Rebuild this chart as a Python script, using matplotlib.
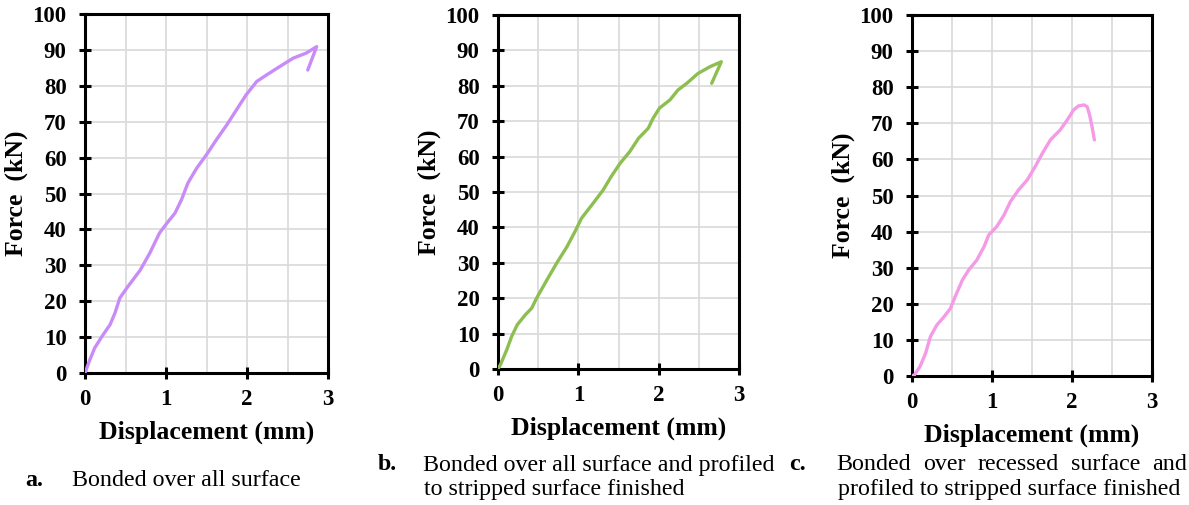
import numpy as np
import matplotlib.pyplot as plt
from matplotlib.ticker import MultipleLocator

# datos (desplazamiento mm, fuerza kN)
disp_a = [0.0, 0.06, 0.12, 0.21, 0.31, 0.37, 0.43, 0.53, 0.68, 0.80, 0.92, 1.01, 1.11, 1.19, 1.27,
          1.38, 1.50, 1.62, 1.75, 1.87, 1.99, 2.12, 2.24, 2.40, 2.57, 2.73, 2.86, 2.75]
force_a = [0.0, 3.7, 7.0, 10.2, 13.5, 16.7, 20.9, 24.1, 28.6, 33.4, 39.0, 41.7, 44.5, 48.2, 52.9,
           57.1, 60.8, 64.9, 69.1, 73.3, 77.5, 81.2, 83.0, 85.3, 87.7, 89.1, 90.9, 84.4]

disp_b = [0.0, 0.03, 0.11, 0.17, 0.24, 0.34, 0.42, 0.48, 0.61, 0.73, 0.86, 0.96, 1.04, 1.17, 1.31,
          1.41, 1.52, 1.64, 1.75, 1.87, 1.93, 2.01, 2.14, 2.24, 2.35, 2.49, 2.64, 2.78, 2.66]
force_b = [0.0, 1.2, 5.5, 9.2, 12.5, 15.3, 17.2, 20.0, 25.2, 29.9, 34.6, 38.9, 42.6, 46.4, 50.6,
           54.4, 58.1, 61.4, 65.2, 68.0, 70.8, 73.7, 76.0, 78.8, 80.7, 83.5, 85.4, 86.8, 80.7]

disp_c = [0.0, 0.03, 0.10, 0.17, 0.23, 0.31, 0.40, 0.48, 0.54, 0.63, 0.71, 0.81, 0.90, 0.96, 1.06,
          1.15, 1.23, 1.33, 1.44, 1.54, 1.63, 1.73, 1.85, 1.94, 2.02, 2.08, 2.15, 2.19, 2.22, 2.25, 2.28]
force_c = [0.0, 0.3, 2.6, 6.3, 10.9, 14.1, 16.4, 18.7, 22.0, 26.6, 29.4, 32.1, 35.8, 39.1, 41.4,
           44.6, 48.3, 51.5, 54.3, 58.0, 61.7, 65.4, 68.1, 70.9, 73.7, 74.8, 75.1, 74.6, 72.3, 69.1, 65.4]

colores = ['#c88cf8', '#8cbf50', '#f59ae6']

W, H = 1189, 505
fig = plt.figure(figsize=(W / 100, H / 100), dpi=100)
plt.rcParams['font.family'] = 'Liberation Serif'

# cajas de ejes en pixeles (izq, arriba, der, abajo)
cajas = [(85, 14, 328, 373), (498, 15, 739, 369), (912, 15, 1152, 376)]
series = [(disp_a, force_a), (disp_b, force_b), (disp_c, force_c)]

for (x0, y0, x1, y1), (xs, ys), col in zip(cajas, series, colores):
    ax = fig.add_axes([x0 / W, 1 - y1 / H, (x1 - x0) / W, (y1 - y0) / H])
    ax.plot(xs, ys, color=col, lw=2.4, solid_capstyle='round', solid_joinstyle='round', zorder=3)
    ax.set_xlim(0, 3)
    ax.set_ylim(0, 100)
    ax.xaxis.set_major_locator(MultipleLocator(1))
    ax.xaxis.set_minor_locator(MultipleLocator(0.5))
    ax.yaxis.set_major_locator(MultipleLocator(10))
    ax.grid(True, which='both', color='#d9d9d9', lw=1.2, zorder=0)
    ax.tick_params(which='minor', length=0)
    ax.tick_params(which='major', direction='inout', length=8.6, width=2.2, labelsize=16.5)
    ax.tick_params(axis='x', pad=7)
    ax.tick_params(axis='y', pad=9)
    for t in ax.get_xticklabels() + ax.get_yticklabels():
        t.set_fontweight('bold')
    for s in ax.spines.values():
        s.set_linewidth(2.2)
    ax.set_xlabel('Displacement (mm)', fontsize=18.5, fontweight='bold', labelpad=8)
    ax.set_ylabel('Force  (kN)', fontsize=18.5, fontweight='bold', labelpad=3)

# leyendas de cada grafico
fs = 17.3
def txt(x, y, s, **kw):
    return fig.text(x / W, 1 - y / H, s, fontsize=fs, va='center', **kw)

txt(25, 480, 'a.', fontweight='bold')
txt(72, 480, 'Bonded over all surface')
txt(378, 465, 'b.', fontweight='bold')
txt(423, 465, 'Bonded over all surface and profiled')
txt(424, 490, 'to stripped surface finished')
txt(789, 465, 'c.', fontweight='bold')
txt(838, 490, 'profiled to stripped surface finished')

# linea justificada entre 836 y 1187 px
palabras = ['Bonded', 'over', 'recessed', 'surface', 'and']
r = fig.canvas.get_renderer()
objs = [txt(836, 465, p) for p in palabras]
anchos = [o.get_window_extent(r).width for o in objs]
hueco = (1187 - 836 - sum(anchos)) / (len(palabras) - 1)
xp = 836
for o, a in zip(objs, anchos):
    o.set_x(xp / W)
    xp += a + hueco

fig.savefig('out.png', dpi=100)
